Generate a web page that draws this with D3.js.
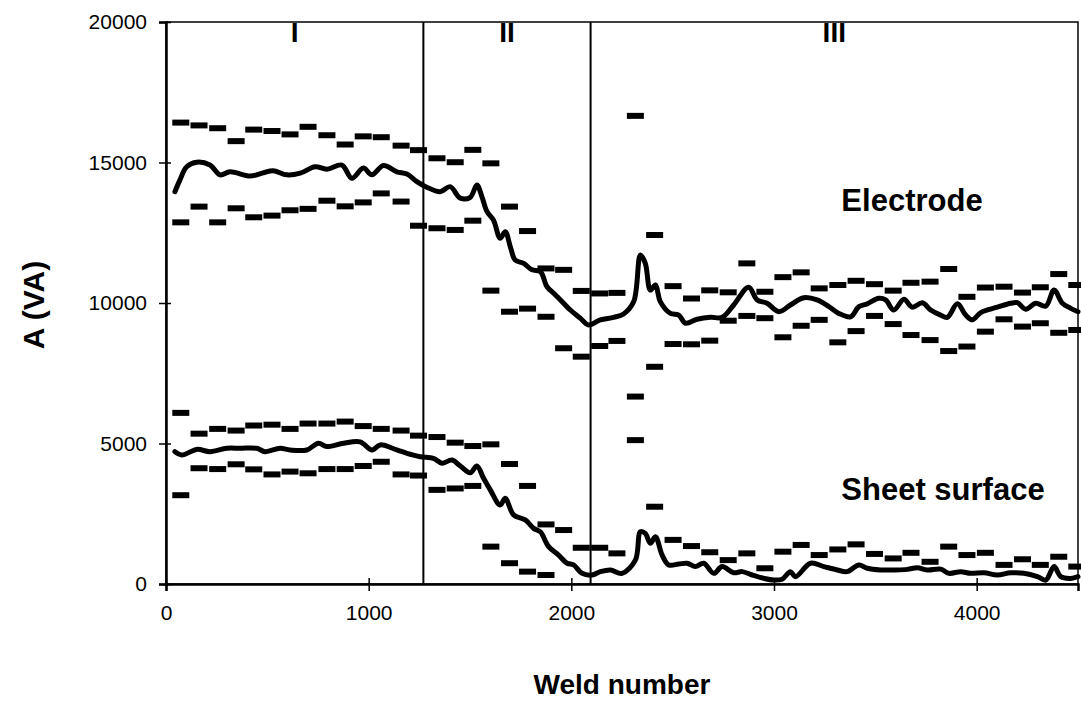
<!DOCTYPE html>
<html>
<head>
<meta charset="utf-8">
<script src="https://cdn.jsdelivr.net/npm/d3@7"></script>
<style>
  body { margin: 0; background: #fff; }
  text { font-family: "Liberation Sans", Arial, Helvetica, sans-serif; }
</style>
</head>
<body>
<div id="chart"></div>
<script>
// mean curves (weld number, value)
const electrodeWeld = [44,69,102,152,217,267,316,415,479,528,596,662,736,794,868,917,974,1016,1073,1139,1189,1238,1287,1353,1402,1452,1501,1534,1559,1584,1616,1649,1674,1699,1723,1765,1806,1847,1880,1913,1946,1995,2044,2085,2143,2209,2258,2308,2341,2365,2390,2415,2439,2489,2530,2563,2621,2686,2744,2801,2875,2917,2966,3024,3081,3147,3213,3271,3320,3378,3419,3460,3517,3551,3591,3641,3682,3732,3773,3822,3855,3905,3946,3979,4020,4102,4168,4201,4242,4291,4341,4382,4423,4464,4500];
const electrodeMean = [13960,14380,14850,15010,14910,14560,14670,14520,14630,14710,14560,14620,14850,14760,14910,14440,14800,14560,14890,14670,14590,14320,14120,13960,14140,13730,13760,14200,13780,13250,12950,12300,12540,12000,11530,11410,11180,11120,10580,10350,10110,9750,9460,9220,9400,9490,9610,10050,11710,11410,10460,10640,10050,9630,9570,9280,9420,9490,9490,9930,10560,10110,9990,9690,9930,10190,10110,9870,9630,9510,9870,9970,10170,10110,9750,10130,9850,10010,9750,9570,9490,9970,9570,9400,9660,9850,9990,10010,9780,9990,9890,10460,9990,9810,9690];

const sheetWeld = [44,78,152,217,300,365,448,489,563,612,695,752,794,876,958,1016,1057,1139,1189,1254,1320,1361,1411,1452,1501,1534,1567,1600,1649,1674,1715,1773,1814,1847,1888,1937,1979,2011,2053,2102,2143,2193,2250,2316,2341,2365,2390,2415,2448,2480,2530,2571,2612,2653,2703,2744,2801,2843,2892,2950,2999,3040,3081,3106,3180,3246,3312,3361,3419,3460,3526,3591,3658,3707,3756,3822,3863,3921,3970,4036,4102,4168,4233,4300,4341,4382,4415,4464,4500];
const sheetMean = [4710,4590,4790,4710,4830,4830,4830,4710,4830,4770,4770,5010,4890,5010,5060,4770,4950,4770,4650,4530,4470,4300,4410,4200,3960,4200,3760,3350,2810,3050,2460,2280,1980,1860,1330,1030,740,680,380,320,440,500,380,850,1860,1800,1450,1680,1030,680,710,740,620,740,380,620,400,440,320,200,140,170,440,260,740,620,500,440,680,560,500,500,520,580,500,530,380,440,380,400,320,400,380,260,140,620,260,200,260];

// scatter band dashes
const dashWeld = [73,163,255,346,433,523,612,701,794,884,973,1062,1160,1246,1337,1427,1514,1603,1695,1784,1875,1962,2049,2140,2225,2316,2411,2502,2593,2683,2774,2866,2955,3044,3134,3223,3315,3405,3496,3588,3676,3770,3862,3952,4043,4135,4226,4314,4405,4494];
const electrodeUpper = [16420,16320,16220,15760,16170,16120,16000,16270,15970,15640,15930,15900,15600,15440,15150,15010,15450,14970,13430,12560,11230,11180,10430,10340,10360,16660,12420,10600,10160,10450,10380,11410,10400,10920,11090,10520,10640,10790,10670,10440,10720,10760,11210,10220,10550,10580,10370,10560,11030,10640];
const electrodeLower = [12870,13430,12870,13370,13050,13110,13300,13350,13640,13440,13580,13900,13610,12750,12660,12600,12930,10440,9690,9800,9510,8390,8090,8470,8650,6670,7730,8540,8530,8660,9370,9540,9460,8780,9190,9400,8600,9000,9540,9250,8860,8680,8290,8450,8980,9420,9160,9280,8940,9040];
const sheetUpper = [6090,5350,5520,5460,5640,5670,5520,5710,5710,5780,5620,5520,5460,5280,5230,5030,4910,4970,4270,3490,2120,1920,1290,1290,1090,5120,2750,1570,1350,1130,850,1090,560,1150,1390,1030,1230,1410,1070,910,1110,790,1330,1030,1110,680,880,680,970,620];
const sheetLower = [3160,4120,4090,4260,4080,3900,4000,3940,4090,4090,4200,4350,3900,3860,3350,3400,3490,1330,740,440,320,null,null,null,null,null,null,null,null,null,null,null,null,null,null,null,null,null,null,null,null,null,null,null,null,null,null,null,null,null];

// region boundaries and names
const regionBounds = [0, 1270, 2095, 4500];
const regionNames = ["I", "II", "III"];

const xTicks = [0, 1000, 2000, 3000, 4000];
const yTicks = [0, 5000, 10000, 15000, 20000];

width = 1081;
height = 702;

x = d3.scaleLinear().domain([0, 4500]).range([166, 1078]);
y = d3.scaleLinear().domain([0, 20000]).range([584, 22]);

const svg = d3.select("#chart").append("svg")
    .attr("width", width)
    .attr("height", height);

// frame
svg.append("rect")
    .attr("x", x(0)).attr("y", y(20000))
    .attr("width", x(4500) - x(0)).attr("height", y(0) - y(20000))
    .attr("fill", "none").attr("stroke", "#000").attr("stroke-width", 1.5);

// axes
const yAxis = svg.append("g")
    .attr("transform", "translate(" + x(0) + ",0)")
    .call(d3.axisLeft(y).tickValues(yTicks).tickSize(7).tickPadding(12).tickFormat(d3.format("d")));
yAxis.selectAll("line").attr("x2", -7).attr("x1", 5);

const xAxis = svg.append("g")
    .attr("transform", "translate(0," + y(0) + ")")
    .call(d3.axisBottom(x).tickValues(xTicks).tickSize(7).tickPadding(14).tickFormat(d3.format("d")));
xAxis.selectAll("line").attr("y2", 7).attr("y1", -6);

svg.selectAll(".domain").attr("stroke", "#000").attr("stroke-width", 2.5);
svg.selectAll(".tick line").attr("stroke", "#000").attr("stroke-width", 1.5);
svg.selectAll(".tick text")
    .attr("font-size", "21px")
    .attr("fill", "#000")
    .style("font-family", "'Liberation Sans', Arial, sans-serif");

// region separators
svg.selectAll(".sep")
    .data(regionBounds.slice(1, 3))
    .enter()
    .append("line")
    .attr("class", "sep")
    .attr("x1", d => x(d)).attr("x2", d => x(d))
    .attr("y1", y(20000)).attr("y2", y(0))
    .attr("stroke", "#000").attr("stroke-width", 2);

svg.selectAll(".region")
    .data(regionNames)
    .enter()
    .append("text")
    .attr("class", "region")
    .attr("x", (d, i) => x((regionBounds[i] + regionBounds[i + 1]) / 2))
    .attr("y", 42)
    .attr("text-anchor", "middle")
    .attr("font-size", "28px")
    .attr("font-weight", "bold")
    .text(d => d);

// dashes
function dashes(vals) {
    svg.append("g").selectAll("rect")
        .data(vals.map((v, i) => [dashWeld[i], v]).filter(d => d[1] != null))
        .enter()
        .append("rect")
        .attr("x", d => x(d[0]) - 8.5)
        .attr("y", d => y(d[1]) - 3)
        .attr("width", 17)
        .attr("height", 6)
        .attr("fill", "#000");
}
dashes(electrodeUpper);
dashes(electrodeLower);
dashes(sheetUpper);
dashes(sheetLower);

// mean lines
const line = d3.line()
    .x(d => x(d[0]))
    .y(d => y(d[1]))
    .curve(d3.curveCatmullRom);

svg.append("path")
    .datum(electrodeWeld.map((w, i) => [w, electrodeMean[i]]))
    .attr("d", line)
    .attr("fill", "none").attr("stroke", "#000").attr("stroke-width", 5)
    .attr("stroke-linejoin", "round").attr("stroke-linecap", "round");

svg.append("path")
    .datum(sheetWeld.map((w, i) => [w, sheetMean[i]]))
    .attr("d", line)
    .attr("fill", "none").attr("stroke", "#000").attr("stroke-width", 5)
    .attr("stroke-linejoin", "round").attr("stroke-linecap", "round");

// series labels
svg.append("text")
    .attr("x", 912).attr("y", 211)
    .attr("text-anchor", "middle")
    .attr("font-size", "31px").attr("font-weight", "bold")
    .text("Electrode");

svg.append("text")
    .attr("x", 943).attr("y", 500)
    .attr("text-anchor", "middle")
    .attr("font-size", "31px").attr("font-weight", "bold")
    .text("Sheet surface");

// axis titles
svg.append("text")
    .attr("x", 622).attr("y", 694)
    .attr("text-anchor", "middle")
    .attr("font-size", "28px").attr("font-weight", "bold")
    .text("Weld number");

svg.append("text")
    .attr("transform", "translate(44,305) rotate(-90)")
    .attr("text-anchor", "middle")
    .attr("font-size", "30px").attr("font-weight", "bold")
    .text("A (VA)");
</script>
</body>
</html>
